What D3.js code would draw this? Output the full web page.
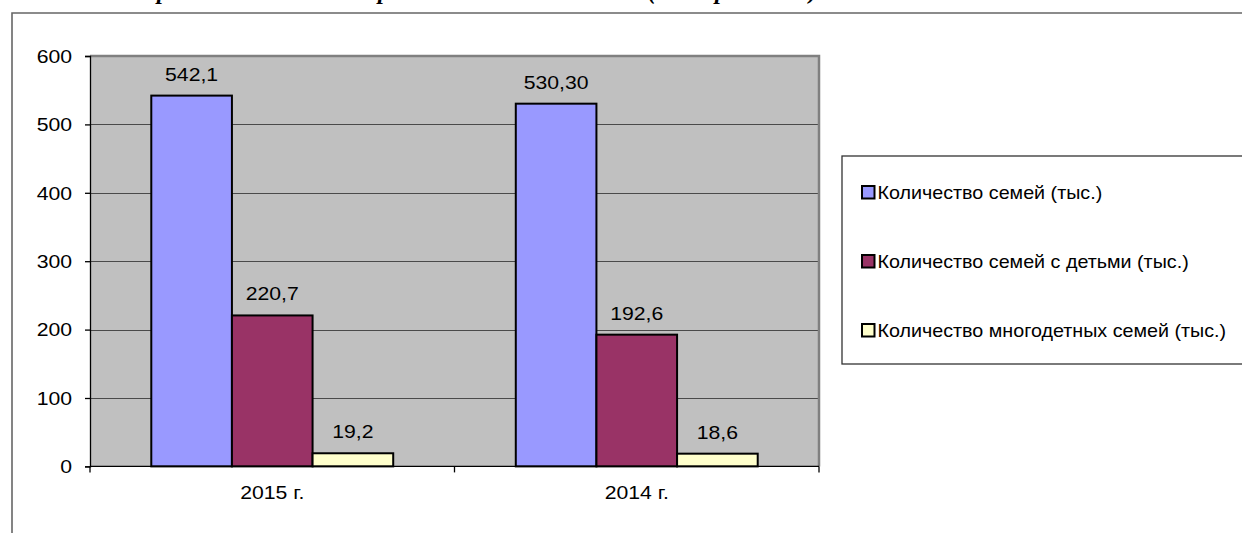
<!DOCTYPE html>
<html>
<head>
<meta charset="utf-8">
<script src="https://cdn.jsdelivr.net/npm/d3@7"></script>
<style>
  html, body { margin: 0; padding: 0; background: #fff; overflow: hidden; }
  svg { display: block; }
</style>
</head>
<body>
<svg id="chart" width="1242" height="533"></svg>
<script>
// ---- data ----
const categories = ["2015 г.", "2014 г."];
const seriesNames = [
  "Количество семей (тыс.)",
  "Количество семей с детьми (тыс.)",
  "Количество многодетных семей (тыс.)"
];
const familiesTotal = [542.1, 530.3];
const familiesWithChildren = [220.7, 192.6];
const familiesLarge = [19.2, 18.6];
const labelsTotal = ["542,1", "530,30"];
const labelsWithChildren = ["220,7", "192,6"];
const labelsLarge = ["19,2", "18,6"];
const yTicks = [0, 100, 200, 300, 400, 500, 600];
const colors = ["#9999FF", "#993366", "#FFFFCC"];
// fragments of the cut-off heading above the chart (only descenders visible)
const headingFragments = ["р", "д", "р", "(", "р", ")"];
const headingX = [163, 310, 384, 652, 721, 813];

const seriesValues = [familiesTotal, familiesWithChildren, familiesLarge];
const seriesLabels = [labelsTotal, labelsWithChildren, labelsLarge];

const svg = d3.select("#chart");
const FONT = "'Liberation Sans', Arial, sans-serif";
const SX = 1.14; // horizontal stretch of the original text

function stretchedText(g, x, y, str, anchor, size) {
  return g.append("text")
    .attr("transform", `translate(${x},${y}) scale(${SX},1)`)
    .attr("text-anchor", anchor)
    .attr("font-family", FONT)
    .attr("font-size", size)
    .attr("fill", "#000")
    .text(str);
}

// heading fragments (cut off at the top, as in the source)
svg.selectAll("text.head").data(headingFragments).enter().append("text")
  .attr("class", "head")
  .attr("x", (d, i) => headingX[i])
  .attr("y", -1)
  .attr("text-anchor", "middle")
  .attr("font-family", "'Liberation Serif', 'Times New Roman', serif")
  .attr("font-style", "italic")
  .attr("font-weight", "bold")
  .attr("font-size", 24)
  .text(d => d);

// outer chart frame (top and left)
svg.append("path")
  .attr("d", "M12,533 L12,13 L1242,13")
  .attr("fill", "none")
  .attr("stroke", "#666")
  .attr("stroke-width", 1.6);

// plot area
const plot = { left: 90, right: 819, top: 56, bottom: 466.4 };

const y = d3.scaleLinear().domain([0, 600]).range([plot.bottom, plot.top]);
const x0 = d3.scaleBand().domain(categories).range([plot.left, plot.right]).padding(0);
const x1 = d3.scaleBand().domain(d3.range(seriesNames.length))
  .range([0, x0.bandwidth()]).paddingInner(0).paddingOuter(0.76);

svg.append("rect")
  .attr("x", plot.left).attr("y", plot.top)
  .attr("width", plot.right - plot.left).attr("height", plot.bottom - plot.top)
  .attr("fill", "#C0C0C0");

// gridlines
svg.append("g").selectAll("line").data(yTicks.filter(t => t > 0 && t < 600)).enter()
  .append("line")
  .attr("x1", plot.left).attr("x2", plot.right)
  .attr("y1", d => Math.round(y(d)) + 0.5).attr("y2", d => Math.round(y(d)) + 0.5)
  .attr("stroke", "#4a4a4a").attr("stroke-width", 1);

// plot border top and right (gray)
svg.append("path")
  .attr("d", `M${plot.left},${plot.top} L${plot.right},${plot.top} L${plot.right},${plot.bottom}`)
  .attr("fill", "none").attr("stroke", "#808080").attr("stroke-width", 2.5);

// bars
const groups = svg.append("g").selectAll("g").data(categories).enter().append("g")
  .attr("transform", d => `translate(${x0(d)},0)`);

groups.each(function(cat, ci) {
  const g = d3.select(this);
  seriesValues.forEach((vals, si) => {
    const v = vals[ci];
    g.append("rect")
      .attr("x", x1(si))
      .attr("y", y(v))
      .attr("width", x1.bandwidth())
      .attr("height", y(0) - y(v))
      .attr("fill", colors[si])
      .attr("stroke", "#000")
      .attr("stroke-width", 2);
    stretchedText(g, x1(si) + x1.bandwidth() / 2, y(v) - 15, seriesLabels[si][ci], "middle", 18.6);
  });
});

// y axis
const yAxis = d3.axisLeft(y).tickValues(yTicks).tickSize(5).tickPadding(0).tickFormat("");
const gy = svg.append("g").attr("transform", `translate(${plot.left},0)`).call(yAxis);
gy.select(".domain").attr("stroke", "#000").attr("stroke-width", 1.3);
gy.selectAll(".tick line").attr("stroke", "#000").attr("stroke-width", 1.3);
yTicks.forEach(t => {
  stretchedText(svg, 72, y(t) + 6.7, String(t), "end", 18.6);
});

// x axis with ticks at band boundaries
const xTickPos = [plot.left].concat(categories.map(c => x0(c) + x0.bandwidth()));
svg.append("line")
  .attr("x1", plot.left).attr("x2", plot.right)
  .attr("y1", plot.bottom).attr("y2", plot.bottom)
  .attr("stroke", "#000").attr("stroke-width", 1.3);
svg.append("g").selectAll("line").data(xTickPos).enter().append("line")
  .attr("x1", d => d).attr("x2", d => d)
  .attr("y1", plot.bottom).attr("y2", plot.bottom + 6)
  .attr("stroke", "#000").attr("stroke-width", 1.3);
categories.forEach(c => {
  stretchedText(svg, x0(c) + x0.bandwidth() / 2, 499, c, "middle", 18.6);
});

// legend
const legend = { x: 842, y: 156, w: 420, h: 208 };
svg.append("rect")
  .attr("x", legend.x).attr("y", legend.y)
  .attr("width", legend.w).attr("height", legend.h)
  .attr("fill", "#fff").attr("stroke", "#333").attr("stroke-width", 1.3);
const legendRowY = d3.scalePoint().domain(d3.range(seriesNames.length)).range([192.5, 330.5]);
seriesNames.forEach((name, i) => {
  const cy = legendRowY(i);
  svg.append("rect")
    .attr("x", 862).attr("y", cy - 6.5)
    .attr("width", 12.5).attr("height", 12.5)
    .attr("fill", colors[i]).attr("stroke", "#000").attr("stroke-width", 2);
  svg.append("text")
    .attr("transform", `translate(877.5,${cy + 6.5}) scale(1.06,1)`)
    .attr("font-family", FONT)
    .attr("font-size", 18.6)
    .attr("fill", "#000")
    .text(name);
});
</script>
</body>
</html>
